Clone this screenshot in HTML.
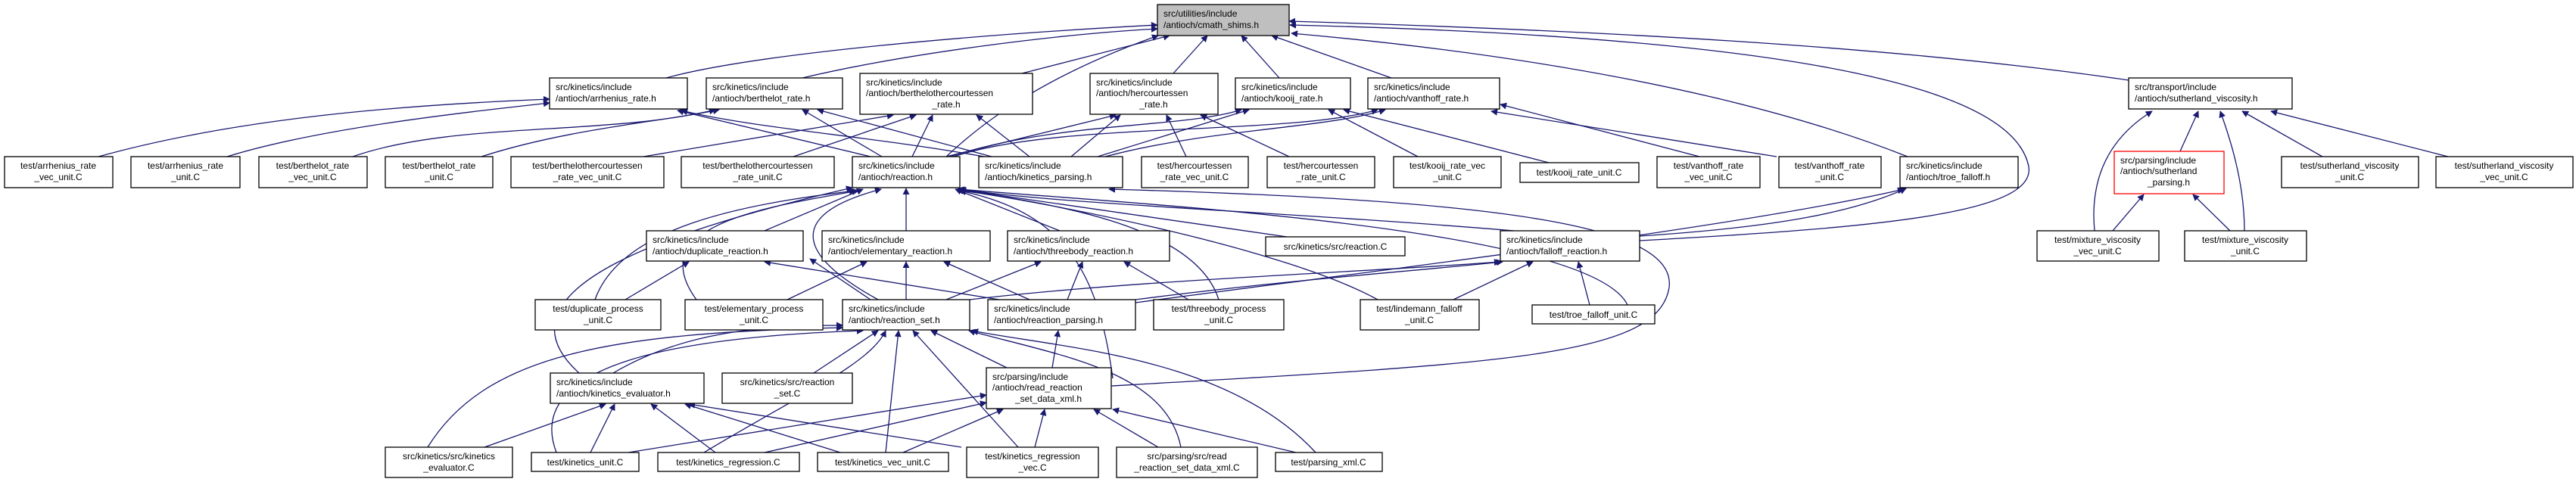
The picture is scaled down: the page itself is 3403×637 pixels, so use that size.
<!DOCTYPE html>
<html><head><meta charset="utf-8"><style>
html,body{margin:0;padding:0;background:#fff;}
svg{display:block;}
text{font-family:"Liberation Sans","DejaVu Sans",sans-serif;font-size:12px;fill:#000;}
.e{fill:none;stroke:#191970;stroke-width:1.3;}
.n{fill:#fff;stroke:#000;stroke-width:1.3;}
</style></head><body>
<svg width="3403" height="637" viewBox="0 0 3403 637" xmlns="http://www.w3.org/2000/svg">
<defs><marker id="a" viewBox="0 0 10 10" refX="9" refY="5" markerWidth="9" markerHeight="9" orient="auto" markerUnits="userSpaceOnUse"><path d="M0,0 L10,5 L0,10 z" fill="#191970"/></marker></defs>
<g class="e" marker-end="url(#a)">
<!-- to cmath -->
<path d="M880,103 C1000,70 1300,45 1529,33"/>
<path d="M1060,103 C1200,70 1400,45 1529,38"/>
<path d="M1350,97 L1545,47"/>
<path d="M1550,97 L1595,47"/>
<path d="M1690,103 L1640,47"/>
<path d="M1838,103 L1680,47"/>
<path d="M1250,207 C1300,160 1380,100 1530,47"/>
<path d="M2812,106 C2500,60 2100,40 1703,28"/>
<path d="M2520,207 C2300,120 2000,70 1706,44"/>
<path d="M2166,318 C2500,300 2690,280 2680,220 C2660,120 2400,50 1704,33"/>
<!-- arrhenius -->
<path d="M130,207 C300,160 500,140 726,131"/>
<path d="M300,207 C420,170 600,150 726,136"/>
<path d="M1150,207 L895,146"/>
<path d="M1300,207 C1150,180 1000,170 900,146"/>
<!-- berthelot -->
<path d="M466,207 C600,160 800,180 945,145"/>
<path d="M636,207 C750,170 880,160 950,145"/>
<path d="M1165,207 L1060,145"/>
<path d="M1310,207 L1080,145"/>
<!-- bhc -->
<path d="M850,207 L1180,152"/>
<path d="M1048,207 L1210,152"/>
<path d="M1205,207 L1232,152"/>
<path d="M1360,207 L1290,152"/>
<!-- hc -->
<path d="M1567,207 L1541,152"/>
<path d="M1703,207 L1586,152"/>
<path d="M1250,207 L1474,152"/>
<path d="M1415,207 L1480,152"/>
<!-- kooij -->
<path d="M1873,207 L1755,145"/>
<path d="M2046,215 L1775,145"/>
<path d="M1255,207 C1400,160 1560,170 1640,145"/>
<path d="M1450,207 L1650,145"/>
<!-- vanthoff -->
<path d="M2245,207 L1982,138"/>
<path d="M2347,207 L1970,147"/>
<path d="M1260,207 C1400,160 1700,180 1820,145"/>
<path d="M1460,207 C1600,170 1750,170 1830,145"/>
<!-- sutherland -->
<path d="M2880,200 L2904,147"/>
<path d="M2767,305 C2760,230 2790,180 2843,147"/>
<path d="M2965,305 C2965,240 2945,180 2933,147"/>
<path d="M3068,207 L2962,147"/>
<path d="M3234,207 L3000,147"/>
<path d="M2791,305 L2832,257"/>
<path d="M2946,305 L2897,257"/>
<!-- troe falloff -->
<path d="M2166,312 C2350,300 2450,280 2518,249"/>
<path d="M1500,400 C1800,360 2300,300 2515,250"/>
<!-- reaction.h -->
<path d="M1197,305 L1197,249"/>
<path d="M1010,305 L1140,250"/>
<path d="M786,396 C820,300 980,270 1130,252"/>
<path d="M920,396 C850,300 1000,275 1134,252"/>
<path d="M765,493 C640,380 900,300 1126,248"/>
<path d="M1160,396 C1040,330 1050,280 1164,250"/>
<path d="M1400,305 L1262,250"/>
<path d="M2000,305 C1700,280 1400,270 1268,250"/>
<path d="M1700,313 L1264,250"/>
<path d="M1610,396 C1580,300 1400,270 1264,251"/>
<path d="M1820,396 C1700,330 1400,270 1265,251"/>
<path d="M2150,403 C2100,300 1500,270 1266,250"/>
<path d="M1470,500 C1450,350 1400,280 1268,252"/>
<!-- duplicate -->
<path d="M826,396 L910,346"/>
<path d="M1150,396 L1070,342"/>
<path d="M1320,396 L1010,346"/>
<!-- elementary -->
<path d="M1040,396 L1145,346"/>
<path d="M1197,396 L1197,346"/>
<path d="M1360,396 L1247,346"/>
<!-- threebody -->
<path d="M1250,396 L1375,346"/>
<path d="M1410,396 L1430,346"/>
<path d="M1570,396 L1485,346"/>
<!-- falloff -->
<path d="M1281,396 C1500,370 1800,360 1982,346"/>
<path d="M1500,396 C1700,370 1850,360 1985,346"/>
<path d="M1920,396 L2025,346"/>
<path d="M2100,403 L2085,346"/>
<!-- reaction_set -->
<path d="M810,493 C900,440 1000,430 1113,430"/>
<path d="M1075,493 L1160,437"/>
<path d="M1330,486 L1230,437"/>
<path d="M565,591 C640,470 800,440 1113,433"/>
<path d="M735,598 C690,480 900,445 1140,437"/>
<path d="M930,598 C1060,520 1150,480 1170,437"/>
<path d="M1170,598 L1187,437"/>
<path d="M1345,591 L1206,437"/>
<path d="M1560,591 C1540,490 1400,470 1280,437"/>
<path d="M1738,598 C1620,470 1400,460 1284,437"/>
<!-- reaction_parsing -->
<path d="M1390,486 L1398,437"/>
<!-- kinetics_evaluator -->
<path d="M640,591 L800,534"/>
<path d="M780,598 L812,534"/>
<path d="M945,598 L860,534"/>
<path d="M1110,598 L905,534"/>
<path d="M1270,591 L910,534"/>
<!-- read xml h -->
<path d="M830,598 L1303,522"/>
<path d="M1010,598 L1303,532"/>
<path d="M1193,598 L1325,541"/>
<path d="M1367,591 L1380,541"/>
<path d="M1530,591 L1445,541"/>
<path d="M1712,598 L1470,541"/>
<!-- kinetics_parsing from read xml -->
<path d="M1468,510 C2000,480 2190,470 2205,380 C2215,300 2000,265 1465,250"/>
</g>
<!-- nodes -->
<g>
<rect x="1529" y="6" width="174" height="41" fill="#bfbfbf" stroke="#000" stroke-width="1.3"/>
<text x="1537" y="22">src/utilities/include</text><text x="1537" y="37">/antioch/cmath_shims.h</text>
</g>
<g class="nodes">
<rect class="n" x="726" y="103" width="182" height="41"/><text x="734" y="119">src/kinetics/include</text><text x="734" y="134">/antioch/arrhenius_rate.h</text>
<rect class="n" x="933" y="103" width="180" height="41"/><text x="941" y="119">src/kinetics/include</text><text x="941" y="134">/antioch/berthelot_rate.h</text>
<rect class="n" x="1136" y="97" width="228" height="54"/><text x="1144" y="113">src/kinetics/include</text><text x="1144" y="127">/antioch/berthelothercourtessen</text><text x="1250" y="142" text-anchor="middle">_rate.h</text>
<rect class="n" x="1440" y="97" width="169" height="54"/><text x="1448" y="113">src/kinetics/include</text><text x="1448" y="127">/antioch/hercourtessen</text><text x="1524" y="142" text-anchor="middle">_rate.h</text>
<rect class="n" x="1632" y="103" width="152" height="41"/><text x="1640" y="119">src/kinetics/include</text><text x="1640" y="134">/antioch/kooij_rate.h</text>
<rect class="n" x="1807" y="103" width="174" height="41"/><text x="1815" y="119">src/kinetics/include</text><text x="1815" y="134">/antioch/vanthoff_rate.h</text>
<rect class="n" x="2812" y="103" width="216" height="41"/><text x="2820" y="119">src/transport/include</text><text x="2820" y="134">/antioch/sutherland_viscosity.h</text>
</g>
<g text-anchor="middle">
<rect class="n" x="6" y="207" width="143" height="41"/><text x="77" y="223">test/arrhenius_rate</text><text x="77" y="238">_vec_unit.C</text>
<rect class="n" x="173" y="207" width="144" height="41"/><text x="245" y="223">test/arrhenius_rate</text><text x="245" y="238">_unit.C</text>
<rect class="n" x="342" y="207" width="143" height="41"/><text x="413" y="223">test/berthelot_rate</text><text x="413" y="238">_vec_unit.C</text>
<rect class="n" x="509" y="207" width="142" height="41"/><text x="580" y="223">test/berthelot_rate</text><text x="580" y="238">_unit.C</text>
<rect class="n" x="675" y="207" width="202" height="41"/><text x="776" y="223">test/berthelothercourtessen</text><text x="776" y="238">_rate_vec_unit.C</text>
<rect class="n" x="900" y="207" width="202" height="41"/><text x="1001" y="223">test/berthelothercourtessen</text><text x="1001" y="238">_rate_unit.C</text>
<rect class="n" x="1508" y="207" width="141" height="41"/><text x="1578" y="223">test/hercourtessen</text><text x="1578" y="238">_rate_vec_unit.C</text>
<rect class="n" x="1674" y="207" width="142" height="41"/><text x="1745" y="223">test/hercourtessen</text><text x="1745" y="238">_rate_unit.C</text>
<rect class="n" x="1841" y="207" width="142" height="41"/><text x="1912" y="223">test/kooij_rate_vec</text><text x="1912" y="238">_unit.C</text>
<rect class="n" x="2008" y="215" width="157" height="26"/><text x="2086" y="232">test/kooij_rate_unit.C</text>
<rect class="n" x="2189" y="207" width="136" height="41"/><text x="2257" y="223">test/vanthoff_rate</text><text x="2257" y="238">_vec_unit.C</text>
<rect class="n" x="2350" y="207" width="135" height="41"/><text x="2417" y="223">test/vanthoff_rate</text><text x="2417" y="238">_unit.C</text>
<rect class="n" x="3014" y="207" width="181" height="41"/><text x="3104" y="223">test/sutherland_viscosity</text><text x="3104" y="238">_unit.C</text>
<rect class="n" x="3218" y="207" width="181" height="41"/><text x="3308" y="223">test/sutherland_viscosity</text><text x="3308" y="238">_vec_unit.C</text>
<rect class="n" x="2691" y="305" width="161" height="40"/><text x="2771" y="321">test/mixture_viscosity</text><text x="2771" y="336">_vec_unit.C</text>
<rect class="n" x="2886" y="305" width="161" height="40"/><text x="2966" y="321">test/mixture_viscosity</text><text x="2966" y="336">_unit.C</text>
<rect class="n" x="1672" y="313" width="184" height="25"/><text x="1764" y="330">src/kinetics/src/reaction.C</text>
<rect class="n" x="707" y="396" width="166" height="40"/><text x="790" y="412">test/duplicate_process</text><text x="790" y="427">_unit.C</text>
<rect class="n" x="905" y="396" width="182" height="40"/><text x="996" y="412">test/elementary_process</text><text x="996" y="427">_unit.C</text>
<rect class="n" x="1524" y="396" width="172" height="40"/><text x="1610" y="412">test/threebody_process</text><text x="1610" y="427">_unit.C</text>
<rect class="n" x="1797" y="396" width="157" height="40"/><text x="1875" y="412">test/lindemann_falloff</text><text x="1875" y="427">_unit.C</text>
<rect class="n" x="2024" y="403" width="162" height="25"/><text x="2105" y="420">test/troe_falloff_unit.C</text>
<rect class="n" x="954" y="493" width="172" height="40"/><text x="1040" y="509">src/kinetics/src/reaction</text><text x="1040" y="524">_set.C</text>
<rect class="n" x="509" y="591" width="168" height="40"/><text x="593" y="607">src/kinetics/src/kinetics</text><text x="593" y="622">_evaluator.C</text>
<rect class="n" x="702" y="598" width="142" height="25"/><text x="773" y="615">test/kinetics_unit.C</text>
<rect class="n" x="869" y="598" width="187" height="25"/><text x="962" y="615">test/kinetics_regression.C</text>
<rect class="n" x="1080" y="598" width="173" height="25"/><text x="1166" y="615">test/kinetics_vec_unit.C</text>
<rect class="n" x="1277" y="591" width="174" height="40"/><text x="1364" y="607">test/kinetics_regression</text><text x="1364" y="622">_vec.C</text>
<rect class="n" x="1475" y="591" width="186" height="40"/><text x="1568" y="607">src/parsing/src/read</text><text x="1568" y="622">_reaction_set_data_xml.C</text>
<rect class="n" x="1685" y="598" width="141" height="25"/><text x="1755" y="615">test/parsing_xml.C</text>
</g>
<g>
<rect class="n" x="1126" y="207" width="142" height="41"/><text x="1134" y="223">src/kinetics/include</text><text x="1134" y="238">/antioch/reaction.h</text>
<rect class="n" x="1293" y="207" width="190" height="41"/><text x="1301" y="223">src/kinetics/include</text><text x="1301" y="238">/antioch/kinetics_parsing.h</text>
<rect class="n" x="2510" y="207" width="156" height="41"/><text x="2518" y="223">src/kinetics/include</text><text x="2518" y="238">/antioch/troe_falloff.h</text>
<rect x="2793" y="200" width="145" height="56" fill="#fff" stroke="#ff0000" stroke-width="1.3"/><text x="2801" y="216">src/parsing/include</text><text x="2801" y="230">/antioch/sutherland</text><text x="2865" y="245" text-anchor="middle">_parsing.h</text>
<rect class="n" x="854" y="305" width="207" height="40"/><text x="862" y="321">src/kinetics/include</text><text x="862" y="336">/antioch/duplicate_reaction.h</text>
<rect class="n" x="1086" y="305" width="222" height="40"/><text x="1094" y="321">src/kinetics/include</text><text x="1094" y="336">/antioch/elementary_reaction.h</text>
<rect class="n" x="1331" y="305" width="214" height="40"/><text x="1339" y="321">src/kinetics/include</text><text x="1339" y="336">/antioch/threebody_reaction.h</text>
<rect class="n" x="1982" y="305" width="184" height="40"/><text x="1990" y="321">src/kinetics/include</text><text x="1990" y="336">/antioch/falloff_reaction.h</text>
<rect class="n" x="1113" y="396" width="168" height="40"/><text x="1121" y="412">src/kinetics/include</text><text x="1121" y="427">/antioch/reaction_set.h</text>
<rect class="n" x="1305" y="396" width="195" height="40"/><text x="1313" y="412">src/kinetics/include</text><text x="1313" y="427">/antioch/reaction_parsing.h</text>
<rect class="n" x="727" y="493" width="203" height="40"/><text x="735" y="509">src/kinetics/include</text><text x="735" y="524">/antioch/kinetics_evaluator.h</text>
<rect class="n" x="1303" y="486" width="165" height="54"/><text x="1311" y="502">src/parsing/include</text><text x="1311" y="516">/antioch/read_reaction</text><text x="1385" y="531" text-anchor="middle">_set_data_xml.h</text>
</g>
</svg>
</body></html>
